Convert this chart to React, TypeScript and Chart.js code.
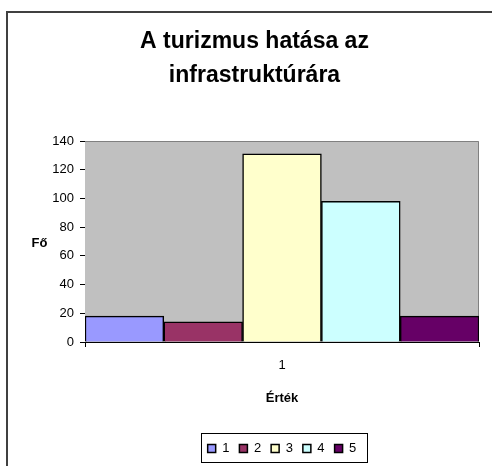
import React, { useEffect, useRef } from "react";
import { Chart, registerables } from "chart.js";

Chart.register(...registerables);

const titleLines = ["A turizmus hatása az", "infrastruktúrára"];
const categories = ["1"];
const seriesLabels = ["1", "2", "3", "4", "5"];
const seriesValues = [18, 14, 131, 98, 18];
const seriesColors = ["#9999FF", "#993366", "#FFFFCC", "#CCFFFF", "#660066"];
const yTitle = "Fő";
const xTitle = "Érték";
const yMin = 0;
const yMax = 140;
const yStep = 20;

const FONT = "'Liberation Sans', Arial, Helvetica, sans-serif";

const chartDecor = {
  id: "chartDecor",
  beforeDatasetsDraw(chart: any) {
    const { ctx, chartArea } = chart;
    const { left, top, right, bottom } = chartArea;
    ctx.save();
    ctx.fillStyle = "#C0C0C0";
    ctx.fillRect(left, top, right - left, bottom - top);
    ctx.strokeStyle = "#808080";
    ctx.lineWidth = 1;
    ctx.beginPath();
    ctx.moveTo(left, top + 0.5);
    ctx.lineTo(right - 0.5, top + 0.5);
    ctx.lineTo(right - 0.5, bottom);
    ctx.stroke();
    ctx.restore();
  },
  afterDraw(chart: any) {
    const { ctx, chartArea } = chart;
    ctx.save();
    ctx.fillStyle = "#000";
    ctx.font = `bold 13px ${FONT}`;
    ctx.textAlign = "center";
    ctx.textBaseline = "middle";
    ctx.fillText(yTitle, chartArea.left - 45.5, 243);
    const lg = chart.legend;
    if (lg && lg.legendHitBoxes && lg.legendHitBoxes.length) {
      const hb = lg.legendHitBoxes;
      const first = hb[0];
      const last = hb[hb.length - 1];
      const l = Math.round(first.left - 7) + 0.5;
      const r = Math.round(last.left + last.width + 11) + 0.5;
      const t = Math.round(first.top - 9) + 0.5;
      const b = Math.round(first.top + first.height + 7) + 0.5;
      ctx.strokeStyle = "#000";
      ctx.lineWidth = 1;
      ctx.strokeRect(l, t, r - l, b - t);
    }
    ctx.restore();
  },
};

export default function App() {
  const canvasRef = useRef<HTMLCanvasElement | null>(null);

  useEffect(() => {
    if (!canvasRef.current) return;
    Chart.defaults.font.family = FONT;
    Chart.defaults.color = "#000";
    const chart = new Chart(canvasRef.current, {
      type: "bar",
      data: {
        labels: categories,
        datasets: seriesLabels.map((lbl, i) => ({
          label: lbl,
          data: [seriesValues[i]],
          backgroundColor: seriesColors[i],
          borderColor: "#000",
          borderWidth: 1.5,
          categoryPercentage: 1,
          barPercentage: 1,
        })),
      },
      options: {
        responsive: false,
        animation: false,
        layout: { padding: { left: 30, right: 13, top: 0, bottom: 1 } },
        plugins: {
          title: {
            display: true,
            text: titleLines,
            color: "#000",
            font: { size: 23, weight: "bold", lineHeight: 34 / 23 },
            padding: { top: 25, bottom: 48 },
          },
          legend: {
            display: true,
            position: "bottom",
            fullSize: false,
            labels: {
              boxWidth: 8,
              boxHeight: 8,
              padding: 10,
              color: "#000",
              font: { size: 13 },
            },
          },
          tooltip: { enabled: false },
        },
        scales: {
          x: {
            type: "category",
            offset: true,
            grid: {
              offset: true,
              drawOnChartArea: false,
              drawTicks: true,
              tickLength: 5,
              color: "#000",
            },
            border: { display: true, color: "#000", width: 1 },
            ticks: { padding: 11, color: "#000", font: { size: 13 } },
            title: {
              display: true,
              text: xTitle,
              color: "#000",
              font: { size: 13, weight: "bold" },
              padding: { top: 0, bottom: 26 },
            },
            afterFit(scale: any) {
              scale.height = 90;
            },
          },
          y: {
            min: yMin,
            max: yMax,
            grid: {
              drawOnChartArea: false,
              drawTicks: true,
              tickLength: 5,
              color: "#000",
            },
            border: { display: true, color: "#000", width: 1 },
            ticks: { stepSize: yStep, padding: 6, color: "#000", font: { size: 13 } },
            afterFit(scale: any) {
              scale.width = 55;
            },
          },
        },
      } as any,
      plugins: [chartDecor],
    });
    return () => chart.destroy();
  }, []);

  return (
    <div
      style={{
        position: "fixed",
        left: 0,
        top: 0,
        width: 492,
        height: 466,
        background: "#fff",
        overflow: "hidden",
      }}
    >
      <div
        style={{
          position: "absolute",
          left: 6,
          top: 11,
          width: 520,
          height: 500,
          border: "2px solid #404040",
          boxSizing: "border-box",
        }}
      />
      <canvas
        ref={canvasRef}
        width={492}
        height={466}
        style={{ position: "absolute", left: 0, top: 0, width: 492, height: 466 }}
      />
    </div>
  );
}
